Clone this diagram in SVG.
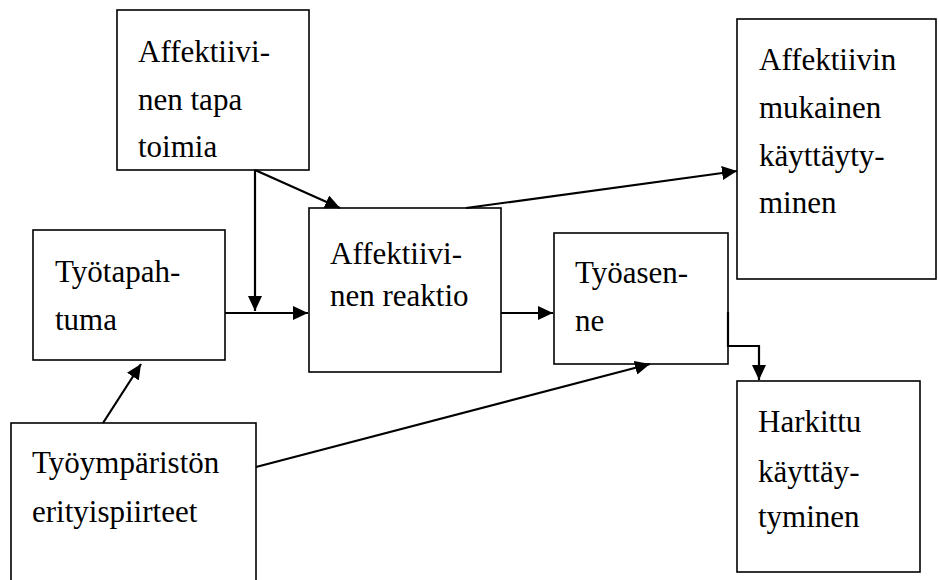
<svg xmlns="http://www.w3.org/2000/svg" width="939" height="580" viewBox="0 0 939 580">
  <style>
    .box { fill: #ffffff; stroke: #000000; stroke-width: 1.6; }
    .lbl { font-size: 31px; fill: #000000; }
    .con { fill: none; stroke: #000000; stroke-width: 2.2; }
  </style>
  <defs>
    <marker id="arrow" viewBox="0 0 15 14" refX="15" refY="7" markerWidth="15" markerHeight="14" markerUnits="userSpaceOnUse" orient="auto">
      <path d="M0,0 L15,7 L0,14 Z" fill="#000000"/>
    </marker>
  </defs>
  <rect width="939" height="580" fill="#ffffff"/>

  <g id="nodes" font-family="Liberation Serif, serif">
    <g id="node-tapa-toimia">
      <rect class="box" x="117" y="10" width="192" height="160"/>
      <text class="lbl" x="138" y="62">Affektiivi-</text>
      <text class="lbl" x="138" y="110">nen tapa</text>
      <text class="lbl" x="138" y="157">toimia</text>
    </g>

    <g id="node-reaktio">
      <rect class="box" x="309" y="208" width="192" height="164"/>
      <text class="lbl" x="330" y="264">Affektiivi-</text>
      <text class="lbl" x="330" y="306">nen reaktio</text>
    </g>

    <g id="node-tyoasenne">
      <rect class="box" x="554" y="233" width="174" height="131"/>
      <text class="lbl" x="575" y="283">Työasen-</text>
      <text class="lbl" x="575" y="331">ne</text>
    </g>

    <g id="node-mukainen">
      <rect class="box" x="737" y="19" width="199" height="260"/>
      <text class="lbl" x="759" y="70">Affektiivin</text>
      <text class="lbl" x="759" y="118">mukainen</text>
      <text class="lbl" x="759" y="166">käyttäyty-</text>
      <text class="lbl" x="759" y="213">minen</text>
    </g>

    <g id="node-tyotapahtuma">
      <rect class="box" x="33" y="230" width="192" height="130"/>
      <text class="lbl" x="55" y="282">Työtapah-</text>
      <text class="lbl" x="55" y="330">tuma</text>
    </g>

    <g id="node-erityispiirteet">
      <rect class="box" x="11" y="423" width="245" height="170"/>
      <text class="lbl" x="32" y="473">Työympäristön</text>
      <text class="lbl" x="32" y="522">erityispiirteet</text>
    </g>

    <g id="node-harkittu">
      <rect class="box" x="737" y="381" width="183" height="191"/>
      <text class="lbl" x="758" y="432">Harkittu</text>
      <text class="lbl" x="758" y="482">käyttäy-</text>
      <text class="lbl" x="758" y="527">tyminen</text>
    </g>
  </g>

  <g id="connectors">
    <line class="con" x1="255" y1="170" x2="255" y2="311" marker-end="url(#arrow)"/>
    <line class="con" x1="255" y1="170" x2="340" y2="208" marker-end="url(#arrow)"/>
    <line class="con" x1="225" y1="313" x2="308" y2="313" marker-end="url(#arrow)"/>
    <line class="con" x1="501" y1="313" x2="553" y2="313" marker-end="url(#arrow)"/>
    <line class="con" x1="466" y1="208" x2="737" y2="171" marker-end="url(#arrow)"/>
    <polyline class="con" points="728,312 728,346 759,346 759,380" marker-end="url(#arrow)"/>
    <line class="con" x1="256" y1="467" x2="650" y2="364" marker-end="url(#arrow)"/>
    <line class="con" x1="103" y1="423" x2="141" y2="364" marker-end="url(#arrow)"/>
  </g>
</svg>
